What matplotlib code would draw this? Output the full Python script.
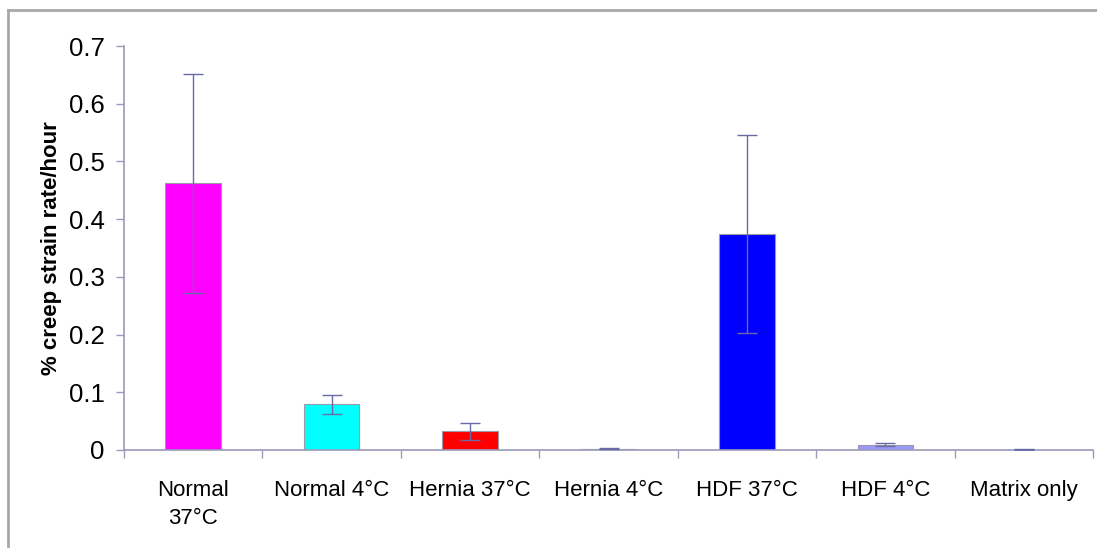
import numpy as np
import matplotlib.pyplot as plt
from matplotlib.lines import Line2D

plt.rcParams["font.family"] = ["Liberation Sans", "DejaVu Sans"]

categories = ["Normal\n37°C", "Normal 4°C", "Hernia 37°C", "Hernia 4°C",
              "HDF 37°C", "HDF 4°C", "Matrix only"]
values = [0.462, 0.079, 0.032, 0.002, 0.374, 0.009, 0.0005]
errors = [0.19, 0.017, 0.015, 0.001, 0.172, 0.003, 0.0003]
colors = ["#ff00ff", "#00ffff", "#ff0000", "#707090", "#0000ff", "#9999ff", "#9090a0"]

axis_col = "#9a9ab8"
err_col = "#6a6aa8"

fig = plt.figure(figsize=(10.97, 5.48), dpi=100)
ax = fig.add_axes([0.113, 0.179, 0.8835, 0.737])

x = np.arange(len(categories))
ax.bar(x, values, width=0.4, color=colors, edgecolor="#9a9aa8", linewidth=0.8, zorder=2)
ax.errorbar(x, values, yerr=errors, fmt="none", ecolor=err_col, elinewidth=1.0,
            capsize=7, capthick=1.0, zorder=3)

ax.set_xlim(-0.5, len(categories) - 0.5)
ax.set_ylim(0, 0.7)
ax.set_yticks(np.arange(0, 0.71, 0.1))
ax.set_yticklabels(["0"] + [f"{v:.1f}" for v in np.arange(0.1, 0.71, 0.1)])

ax.set_xticks(x)
ax.set_xticklabels(categories, fontsize=16, linespacing=1.4)
ax.tick_params(axis="x", which="major", length=0, pad=22)
ax.set_xticks(np.arange(-0.5, len(categories)), minor=True)
ax.tick_params(axis="x", which="minor", length=6, direction="out", color=axis_col, width=1)
ax.tick_params(axis="y", length=6, direction="out", color=axis_col, width=1,
               labelsize=18.5, pad=8)

for s in ["top", "right"]:
    ax.spines[s].set_visible(False)
for s in ["left", "bottom"]:
    ax.spines[s].set_color(axis_col)
    ax.spines[s].set_linewidth(1.2)

ax.set_ylabel("% creep strain rate/hour", fontsize=16, fontweight="bold", labelpad=5)

# outer frame (top and left edges visible)
fig.add_artist(Line2D([0.007, 1.0], [0.982, 0.982], transform=fig.transFigure,
                      color="#a8a8a8", linewidth=2))
fig.add_artist(Line2D([0.0075, 0.0075], [0.0, 0.982], transform=fig.transFigure,
                      color="#a8a8a8", linewidth=2))

fig.savefig("out.png", dpi=100)
